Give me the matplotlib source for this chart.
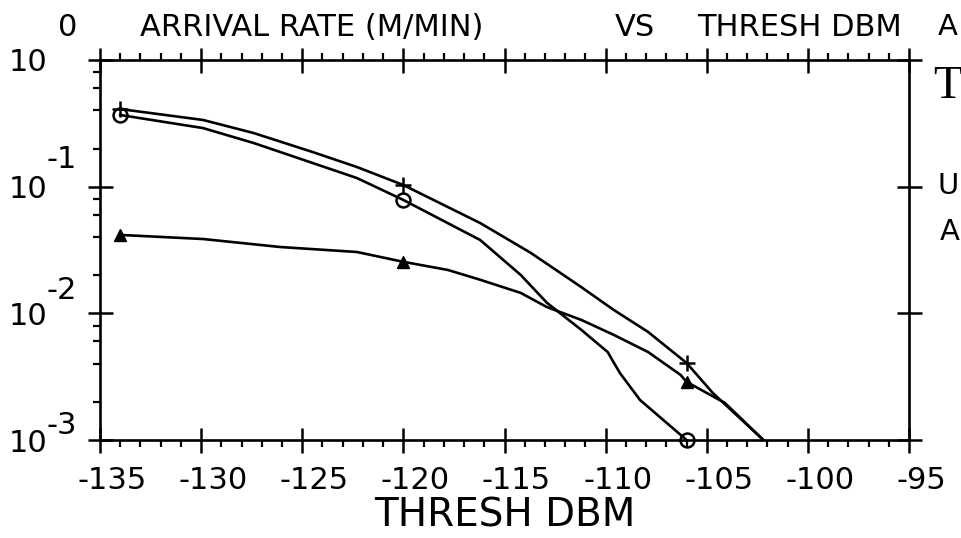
import matplotlib
matplotlib.use('Agg')
import matplotlib.pyplot as plt
import matplotlib.ticker as mticker
import matplotlib.transforms as mtransforms

# Thresholds where the marked points sit
mark_x = [-134, -120, -106]
mark_plus = [0.41, 0.103, 0.00406]
mark_circle = [0.368, 0.0785, 0.001]
mark_triangle = [0.0416, 0.0255, 0.00288]

# Traced curves
plus_x = [-134, -129.9, -127.4, -124.5, -122.3, -120, -116.2, -113.7, -111.2,
          -109.6, -107.9, -106, -104.7, -102.2]
plus_y = [0.41, 0.336, 0.265, 0.188, 0.143, 0.103, 0.0516, 0.030, 0.0161,
          0.01064, 0.00713, 0.00406, 0.00235, 0.001]

circle_x = [-134, -129.9, -127.4, -124.5, -122.3, -120, -116.2, -114.2, -112.9,
            -111.2, -109.9, -109.3, -108.3, -106.3, -106]
circle_y = [0.368, 0.290, 0.221, 0.154, 0.117, 0.0785, 0.0379, 0.0201, 0.0121,
            0.0074, 0.00495, 0.00339, 0.00207, 0.0011, 0.001]

triangle_x = [-134, -129.9, -126.1, -122.3, -120, -117.8, -116.2, -114.2, -112.9,
              -111.2, -109.6, -107.9, -106.3, -106, -104.1, -102.2]
triangle_y = [0.0416, 0.0386, 0.0334, 0.0305, 0.0255, 0.0220, 0.0184, 0.0145, 0.0112,
              0.00887, 0.00676, 0.00495, 0.00327, 0.00288, 0.00196, 0.001]

x_ticks = [-135, -130, -125, -120, -115, -110, -105, -100, -95]
y_ticks = [1e-3, 1e-2, 1e-1, 1]
y_exps = ['-3', '-2', '-1', '0']

plt.rcParams['font.family'] = ['DejaVu Sans']

fig = plt.figure(figsize=(9.62, 5.38), dpi=100)
ax = fig.add_axes([100 / 962, 1 - 440 / 538, 809 / 962, 380 / 538])

lw = 1.9
ax.plot(plus_x, plus_y, color='black', lw=lw)
ax.plot(circle_x, circle_y, color='black', lw=lw)
ax.plot(triangle_x, triangle_y, color='black', lw=lw)

ax.plot(mark_x, mark_plus, ls='none', marker='+', ms=12, mew=1.8, color='black', clip_on=False)
ax.plot(mark_x, mark_circle, ls='none', marker='o', ms=10, mew=1.8, mfc='none', mec='black', clip_on=False)
ax.plot(mark_x, mark_triangle, ls='none', marker='^', ms=8, color='black', clip_on=False)

ax.set_yscale('log')
ax.set_xlim(-135, -95)
ax.set_ylim(1e-3, 1)

ax.set_xticks(x_ticks)
ax.set_xticklabels([str(v) for v in x_ticks], fontsize=22)
ax.xaxis.set_minor_locator(mticker.MultipleLocator(1))
ax.set_yticks(y_ticks)
ax.set_yticklabels(['10'] * len(y_ticks), fontsize=22)
ax.yaxis.set_minor_locator(mticker.LogLocator(base=10, subs=(2, 4, 6, 8)))
ax.yaxis.set_minor_formatter(mticker.NullFormatter())

ax.tick_params(which='major', direction='inout', length=18, width=1.8,
               top=True, right=True, pad=10)
ax.tick_params(axis='y', which='major', pad=29)
ax.tick_params(which='minor', direction='out', length=5, width=1.6, top=True, right=False)
for sp in ax.spines.values():
    sp.set_linewidth(1.9)

# labels sit a bit to the right of their ticks
shift = mtransforms.ScaledTranslation(12 / 100, 0, fig.dpi_scale_trans)
for lab in ax.get_xticklabels():
    lab.set_transform(lab.get_transform() + shift)

# exponents of the y tick labels
exp_rise = [15, 23, 27, 32]
for v, e, r in zip(y_ticks, y_exps, exp_rise):
    ax.annotate(e, xy=(0, v), xycoords=('axes fraction', 'data'),
                xytext=(-23, r), textcoords='offset pixels',
                ha='right', va='center', fontsize=22)

ax.set_xlabel('THRESH DBM', fontsize=28, labelpad=1)

fig.text(140 / 962, 1 - 27 / 538, 'ARRIVAL RATE (M/MIN)', fontsize=22, va='center', ha='left')
fig.text(615 / 962, 1 - 27 / 538, 'VS', fontsize=22, va='center', ha='left')
fig.text(697 / 962, 1 - 27 / 538, 'THRESH DBM', fontsize=22, va='center', ha='left')
fig.text(938 / 962, 1 - 27 / 538, 'A', fontsize=21, va='center', ha='left')
fig.text(933 / 962, 1 - 87 / 538, 'T', fontsize=34, va='center', ha='left', family='Liberation Serif')
fig.text(938 / 962, 1 - 186 / 538, 'U', fontsize=21, va='center', ha='left')
fig.text(940 / 962, 1 - 232 / 538, 'A', fontsize=21, va='center', ha='left')

fig.savefig('out.png', dpi=100)
